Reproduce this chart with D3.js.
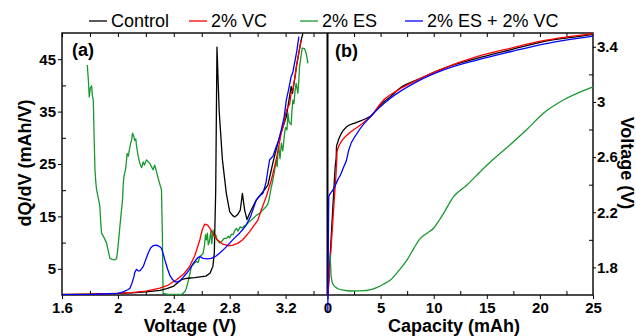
<!DOCTYPE html>
<html>
<head>
<meta charset="utf-8">
<script src="https://cdn.jsdelivr.net/npm/d3@7"></script>
<style>
  body { margin: 0; background: #fff; }
  svg { display: block; font-family: "Liberation Sans", Arial, sans-serif; }
</style>
</head>
<body>
<div id="chart"></div>
<script>
// ---- data ----
const seriesNames = ["Control", "2% VC", "2% ES", "2% ES + 2% VC"];
const seriesColors = ["#000000", "#ff0000", "#17992e", "#0000ff"];

// (a) dQ/dV vs voltage : [V, mAh/V]
const dqdvControl = [[1.6,0.1],[1.8,0.15],[2.0,0.3],[2.1,0.4],[2.2,0.6],[2.3,0.9],[2.35,1.2],[2.4,1.7],[2.43,2.4],[2.46,3.0],[2.5,3.2],[2.55,3.3],[2.6,3.5],[2.63,3.6],[2.66,4.2],[2.68,5.5],[2.69,8],[2.7,20],[2.709,47.3],[2.725,35],[2.748,25.8],[2.776,19.4],[2.8,15.9],[2.82,15.2],[2.836,14.9],[2.855,15.3],[2.876,16.2],[2.891,19.4],[2.907,16.2],[2.924,14.4],[2.943,15.6],[2.99,18.1],[3.038,19.7],[3.074,21],[3.098,23.9],[3.114,25.8],[3.15,29.5],[3.205,34],[3.24,39.8],[3.25,38.5],[3.28,44],[3.31,48.5],[3.324,49.9]];
const dqdvVC = [[1.6,0.05],[1.8,0.15],[2.0,0.3],[2.1,0.45],[2.2,0.75],[2.3,1.3],[2.36,1.9],[2.42,2.9],[2.47,4.0],[2.51,5.3],[2.55,7.5],[2.586,10.5],[2.605,12.6],[2.621,13.5],[2.64,13.4],[2.657,12.8],[2.68,11.7],[2.705,10.7],[2.752,9.7],[2.79,9.4],[2.824,9.5],[2.86,9.9],[2.895,10.6],[2.943,12.1],[3.002,14.3],[3.03,16.5],[3.062,18.8],[3.098,21.9],[3.133,25.8],[3.169,30.9],[3.19,33],[3.2,34.5],[3.21,35.5],[3.23,36.5],[3.24,38.5],[3.252,39.1],[3.26,40.5],[3.27,42],[3.28,44],[3.312,48.7]];
const dqdvES = [[1.781,43.9],[1.79,40.5],[1.795,37.8],[1.803,39.5],[1.812,39.9],[1.818,38],[1.824,37.2],[1.83,30],[1.836,23.9],[1.842,21.5],[1.848,20],[1.86,18.5],[1.871,16.9],[1.877,14],[1.883,11.8],[1.9,11.0],[1.919,9.9],[1.93,8.5],[1.943,7.0],[1.96,6.8],[1.979,6.7],[1.991,7.0],[2.0,9],[2.014,13],[2.025,16],[2.033,18.1],[2.038,21],[2.043,22.6],[2.055,24],[2.062,25.8],[2.066,27],[2.075,26.5],[2.08,27.4],[2.09,28.8],[2.098,29.6],[2.105,30.9],[2.112,30.4],[2.12,29.5],[2.128,29.8],[2.134,28.3],[2.145,26.5],[2.157,25.1],[2.17,24.3],[2.181,25.4],[2.19,24.8],[2.205,25.8],[2.215,25.5],[2.229,25.1],[2.24,24.5],[2.252,23.9],[2.264,24.8],[2.288,22.3],[2.312,20],[2.318,12],[2.322,3],[2.324,0.3],[2.36,0.1],[2.42,0.1],[2.455,0.1],[2.479,0.6],[2.49,1.3],[2.502,2.5],[2.515,4],[2.526,5.4],[2.545,6.0],[2.562,6.4],[2.575,6.2],[2.586,7.4],[2.6,7.6],[2.61,8.0],[2.62,9.5],[2.627,11.5],[2.633,10.5],[2.64,11.8],[2.647,9.6],[2.655,10.2],[2.665,12.2],[2.672,9.8],[2.681,12.4],[2.69,11],[2.7,11.5],[2.712,10.4],[2.729,9.9],[2.745,10.3],[2.76,10.8],[2.776,10.8],[2.79,11.2],[2.8,10.9],[2.812,11.6],[2.824,11.5],[2.836,12.3],[2.848,12.7],[2.86,12.2],[2.875,13],[2.89,12.8],[2.905,13.2],[2.919,13.4],[2.94,14],[2.967,14.6],[2.99,15.2],[3.014,15.6],[3.04,16.3],[3.062,16.9],[3.075,17.5],[3.086,18.8],[3.095,20.2],[3.109,21.9],[3.12,23.5],[3.133,25.8],[3.14,24.5],[3.145,27],[3.152,28.3],[3.16,26],[3.17,29],[3.18,27.5],[3.193,30.9],[3.2,32],[3.21,31.5],[3.217,34.7],[3.225,33],[3.24,32.5],[3.245,35],[3.252,37.2],[3.26,36.5],[3.268,39],[3.276,40.4],[3.288,38.5],[3.295,41],[3.3,43.6],[3.31,45.5],[3.319,47.1],[3.336,47],[3.348,46.1],[3.36,44.2]];
const dqdvESVC = [[1.6,0.05],[1.8,0.1],[2.0,0.3],[2.038,0.6],[2.07,1.0],[2.086,1.3],[2.1,2.2],[2.115,3.5],[2.121,4.3],[2.133,4.9],[2.145,4.6],[2.157,4.6],[2.181,5.4],[2.2,6.8],[2.217,8.0],[2.235,9.0],[2.252,9.4],[2.27,9.5],[2.288,9.4],[2.3,9.2],[2.312,8.9],[2.325,7.8],[2.336,6.7],[2.355,5.0],[2.371,3.8],[2.39,3.0],[2.407,2.5],[2.425,2.5],[2.443,2.7],[2.465,3.3],[2.49,4.1],[2.515,5.0],[2.538,6.0],[2.574,7.2],[2.59,7.3],[2.61,7.0],[2.64,6.9],[2.669,7.0],[2.7,7.4],[2.729,8.0],[2.765,8.9],[2.8,9.9],[2.835,10.9],[2.871,11.8],[2.9,12.7],[2.919,13.4],[2.95,15],[2.99,18.1],[3.01,18.8],[3.038,19.4],[3.06,21.5],[3.074,23.9],[3.086,25.8],[3.11,26.5],[3.133,28.3],[3.15,29.5],[3.169,31.5],[3.19,34],[3.205,37.2],[3.22,39],[3.24,41.7],[3.252,42.5],[3.264,44.2],[3.28,46.5],[3.295,49.3]];

// (b) voltage vs capacity : [mAh, V]
const vcapControl = [[0.05,1.6],[0.3,1.95],[0.55,2.3],[0.75,2.55],[0.82,2.6],[0.85,2.68],[1.8,2.82],[2.7,2.85],[3.7,2.882],[4.2,2.905],[5.0,2.98],[5.92,3.038],[7,3.11],[8.43,3.16],[10.93,3.244],[14.07,3.316],[17.2,3.377],[20.33,3.437],[24.7,3.486],[25,3.49]];
const vcapVC = [[0.03,1.6],[0.3,1.9],[0.6,2.25],[0.88,2.6],[0.9,2.64],[1.2,2.7],[1.85,2.76],[3.1,2.833],[4.04,2.893],[5.29,3.014],[6.5,3.08],[7.8,3.135],[10.93,3.244],[14.07,3.328],[17.2,3.389],[20.33,3.444],[25,3.495]];
const vcapES = [[0.25,1.9],[0.3,1.8],[0.35,1.733],[0.5,1.68],[0.91,1.649],[1.5,1.635],[2.16,1.629],[3.41,1.631],[4.67,1.656],[5.3,1.68],[5.92,1.709],[6.7,1.775],[7.49,1.854],[8.1,1.935],[8.74,2.011],[9.4,2.05],[9.99,2.084],[10.5,2.14],[10.93,2.192],[11.87,2.313],[13.13,2.398],[14.38,2.494],[15.48,2.575],[17.2,2.69],[18.77,2.8],[20.33,2.918],[22.21,3.014],[25,3.11]];
const vcapESVC = [[0.03,1.48],[0.05,1.7],[0.08,2.0],[0.1,2.2],[0.13,2.313],[0.28,2.337],[0.5,2.36],[0.75,2.398],[1.0,2.44],[1.22,2.47],[1.53,2.53],[1.79,2.579],[2.0,2.651],[2.79,2.773],[4.04,2.893],[5.92,3.026],[8.43,3.147],[10.93,3.232],[14.07,3.304],[17.2,3.364],[20.33,3.42],[25,3.478]];

// ticks
const voltMajor = [1.6, 2, 2.4, 2.8, 3.2];
const voltMinor = [1.8, 2.2, 2.6, 3.0, 3.4];
const dqdvMajor = [5, 15, 25, 35, 45];
const dqdvMinor = [10, 20, 30, 40];
const capMajor = [0, 5, 10, 15, 20, 25];
const capMinor = [2.5, 7.5, 12.5, 17.5, 22.5];
const rvMajor = [1.8, 2.2, 2.6, 3, 3.4];
const rvMinor = [2.0, 2.4, 2.8, 3.2];

// ---- layout ----
const W = 636, H = 336;
const plotTop = 33, plotBottom = 295, plotLeft = 62, plotMid = 327.5, plotRight = 593;

const svg = d3.select("#chart").append("svg").attr("width", W).attr("height", H);

const xa = d3.scaleLinear().domain([1.6, 3.5]).range([plotLeft, plotMid]);
const ya = d3.scaleLinear().domain([0, 50]).range([plotBottom, plotTop]);
const xb = d3.scaleLinear().domain([0, 25]).range([plotMid, plotRight]);
const yb = d3.scaleLinear().domain([1.6, 3.5]).range([plotBottom, plotTop]);

svg.append("clipPath").attr("id", "clipA")
    .append("rect").attr("x", plotLeft).attr("y", plotTop)
    .attr("width", plotMid - plotLeft).attr("height", plotBottom - plotTop);

function styleAxis(g) {
    g.select(".domain").remove();
    g.selectAll("line").attr("stroke", "#000").attr("stroke-width", 1);
    g.selectAll("text").attr("font-size", 15).attr("font-weight", "bold").attr("fill", "#000")
        .attr("font-family", "Liberation Sans, Arial, sans-serif");
}

// bottom axes
svg.append("g").attr("transform", `translate(0,${plotBottom})`)
    .call(d3.axisBottom(xa).tickValues(voltMajor).tickSize(4).tickPadding(3).tickFormat(d => String(d))).call(styleAxis);
svg.append("g").attr("transform", `translate(0,${plotBottom})`)
    .call(d3.axisBottom(xa).tickValues(voltMinor).tickSize(-4).tickFormat("")).call(styleAxis);
svg.append("g").attr("transform", `translate(0,${plotBottom})`)
    .call(d3.axisBottom(xb).tickValues(capMajor).tickSize(4).tickPadding(3).tickFormat(d => String(d))).call(styleAxis);
svg.append("g").attr("transform", `translate(0,${plotBottom})`)
    .call(d3.axisBottom(xb).tickValues(capMinor).tickSize(-4).tickFormat("")).call(styleAxis);

// top axes (inward ticks only)
svg.append("g").attr("transform", `translate(0,${plotTop})`)
    .call(d3.axisTop(xa).tickValues(voltMajor.concat(voltMinor)).tickSize(-4).tickFormat("")).call(styleAxis);
svg.append("g").attr("transform", `translate(0,${plotTop})`)
    .call(d3.axisTop(xb).tickValues(capMajor.concat(capMinor).filter(d => d > 0 && d < 25)).tickSize(-4).tickFormat("")).call(styleAxis);

// left axis
svg.append("g").attr("transform", `translate(${plotLeft},0)`)
    .call(d3.axisLeft(ya).tickValues(dqdvMajor).tickSize(4).tickPadding(2)).call(styleAxis);
svg.append("g").attr("transform", `translate(${plotLeft},0)`)
    .call(d3.axisLeft(ya).tickValues(dqdvMinor).tickSize(-4).tickFormat("")).call(styleAxis);

// right axis
svg.append("g").attr("transform", `translate(${plotRight},0)`)
    .call(d3.axisRight(yb).tickValues(rvMajor).tickSize(3).tickPadding(1).tickFormat(d => String(d))).call(styleAxis);
svg.append("g").attr("transform", `translate(${plotRight},0)`)
    .call(d3.axisRight(yb).tickValues(rvMinor).tickSize(-4).tickFormat("")).call(styleAxis);

// frame
svg.append("rect").attr("x", plotLeft).attr("y", plotTop)
    .attr("width", plotRight - plotLeft).attr("height", plotBottom - plotTop)
    .attr("fill", "none").attr("stroke", "#000").attr("stroke-width", 1.4);
svg.append("line").attr("x1", plotMid).attr("x2", plotMid).attr("y1", plotTop).attr("y2", plotBottom)
    .attr("stroke", "#000").attr("stroke-width", 2);

// curves
const lineA = d3.line().x(d => xa(d[0])).y(d => ya(d[1]));
const lineB = d3.line().x(d => xb(d[0])).y(d => yb(d[1])).curve(d3.curveMonotoneX);

const gA = svg.append("g").attr("clip-path", "url(#clipA)");
[[dqdvES, 2], [dqdvControl, 0], [dqdvVC, 1], [dqdvESVC, 3]].forEach(([data, i]) => {
    gA.append("path").datum(data).attr("d", lineA)
        .attr("fill", "none").attr("stroke", seriesColors[i]).attr("stroke-width", 1.3)
        .attr("stroke-linejoin", "round");
});

const gB = svg.append("g");
[[vcapControl, 0], [vcapVC, 1], [vcapESVC, 3], [vcapES, 2]].forEach(([data, i]) => {
    gB.append("path").datum(data).attr("d", lineB)
        .attr("fill", "none").attr("stroke", seriesColors[i]).attr("stroke-width", 1.3)
        .attr("stroke-linejoin", "round");
});

// panel labels
svg.append("text").attr("x", 72).attr("y", 56).attr("font-size", 18).attr("font-weight", "bold").text("(a)");
svg.append("text").attr("x", 335).attr("y", 57).attr("font-size", 18).attr("font-weight", "bold").text("(b)");

// axis titles
svg.append("text").attr("x", 190).attr("y", 332).attr("text-anchor", "middle")
    .attr("font-size", 18).attr("font-weight", "bold").text("Voltage (V)");
svg.append("text").attr("x", 454).attr("y", 332).attr("text-anchor", "middle")
    .attr("font-size", 18).attr("font-weight", "bold").text("Capacity (mAh)");
svg.append("text").attr("transform", "translate(31,163) rotate(-90)").attr("text-anchor", "middle")
    .attr("font-size", 18).attr("font-weight", "bold").text("dQ/dV (mAh/V)");
svg.append("text").attr("transform", "translate(621,163) rotate(90)").attr("text-anchor", "middle")
    .attr("font-size", 18).attr("font-weight", "bold").text("Voltage (V)");

// legend
const legendX = [89, 189, 300, 405];
const legend = svg.append("g");
seriesNames.forEach((name, i) => {
    legend.append("line").attr("x1", legendX[i]).attr("x2", legendX[i] + 18).attr("y1", 21).attr("y2", 21)
        .attr("stroke", seriesColors[i]).attr("stroke-width", 1.3);
    legend.append("text").attr("x", legendX[i] + 22).attr("y", 27).attr("font-size", 18).text(name);
});
</script>
</body>
</html>
